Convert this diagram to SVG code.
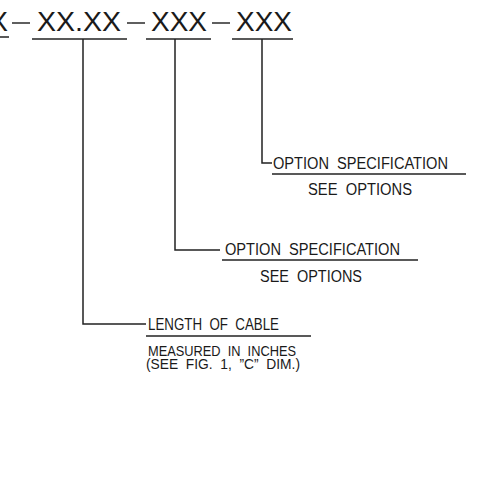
<svg xmlns="http://www.w3.org/2000/svg" width="498" height="490" viewBox="0 0 498 490">
<style>
.bg{fill:#fff}
.big{font-family:"Liberation Sans",Arial,sans-serif;font-size:28px;fill:#1a1a1a}
.sm{font-family:"Liberation Sans",Arial,sans-serif;font-size:16px;fill:#1a1a1a;white-space:pre}
.sm2{font-family:"Liberation Sans",Arial,sans-serif;font-size:14.5px;fill:#1a1a1a;white-space:pre}
.ln{stroke:#222;stroke-width:1.5;fill:none}
.dash{stroke:#1a1a1a;stroke-width:1.4}
</style>
<rect class="bg" x="0" y="0" width="498" height="490"/>
<g id="part-number">
<text class="big" x="-11" y="31" textLength="19" lengthAdjust="spacingAndGlyphs">X</text>
<line class="dash" x1="12" y1="23" x2="30" y2="23"/>
<text class="big" x="37" y="31" textLength="84" lengthAdjust="spacingAndGlyphs">XX.XX</text>
<line class="dash" x1="127" y1="23" x2="145" y2="23"/>
<text class="big" x="151" y="31" textLength="56" lengthAdjust="spacingAndGlyphs">XXX</text>
<line class="dash" x1="212" y1="23" x2="230" y2="23"/>
<text class="big" x="236" y="31" textLength="56" lengthAdjust="spacingAndGlyphs">XXX</text>
<line class="ln" x1="0" y1="37" x2="9" y2="37"/>
<line class="ln" x1="32" y1="39" x2="127" y2="39"/>
<line class="ln" x1="146" y1="39" x2="211" y2="39"/>
<line class="ln" x1="232" y1="39" x2="293" y2="39"/>
</g>
<g id="connectors">
<polyline class="ln" points="262,39 262,163 272,163"/>
<polyline class="ln" points="175,39 175,250 220,250"/>
<polyline class="ln" points="83,39 83,324 146,324"/>
</g>
<g id="option-spec-1">
<text class="sm" x="273" y="169" textLength="175" lengthAdjust="spacingAndGlyphs">OPTION  SPECIFICATION</text>
<line class="ln" x1="272" y1="174" x2="466" y2="174"/>
<text class="sm" x="308" y="195" textLength="104" lengthAdjust="spacingAndGlyphs">SEE  OPTIONS</text>
</g>
<g id="option-spec-2">
<text class="sm" x="225" y="255" textLength="175" lengthAdjust="spacingAndGlyphs">OPTION  SPECIFICATION</text>
<line class="ln" x1="222" y1="260" x2="418" y2="260"/>
<text class="sm" x="260" y="282" textLength="102" lengthAdjust="spacingAndGlyphs">SEE  OPTIONS</text>
</g>
<g id="length-of-cable">
<text class="sm" x="148" y="330" textLength="131" lengthAdjust="spacingAndGlyphs">LENGTH  OF  CABLE</text>
<line class="ln" x1="146" y1="336" x2="311" y2="336"/>
<text class="sm2" x="148" y="356" textLength="148" lengthAdjust="spacingAndGlyphs">MEASURED  IN  INCHES</text>
<text class="sm2" x="146" y="369" textLength="154" lengthAdjust="spacingAndGlyphs">(SEE  FIG.  1,  ”C”  DIM.)</text>
</g>
</svg>
